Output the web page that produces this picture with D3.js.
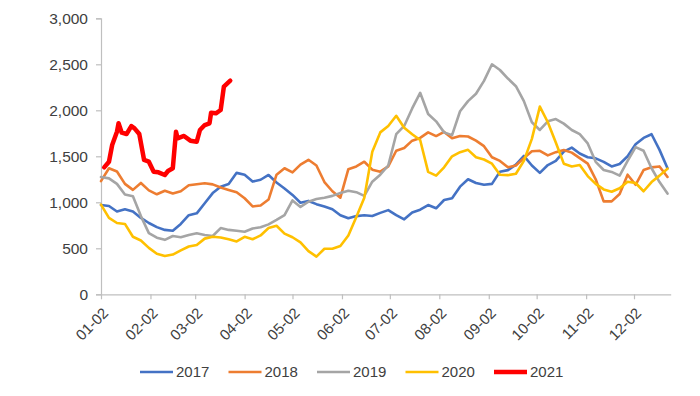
<!DOCTYPE html>
<html><head><meta charset="utf-8">
<script src="https://cdn.jsdelivr.net/npm/d3@7"></script>
<style>body{margin:0;background:#fff}svg{display:block}</style>
</head><body>
<svg id="chart" width="700" height="396"></svg>
<script>
// day offsets from Jan 2 for the 2017-2020 series
const dayOffsets = [0,5,10,15,20,25,30,35,40,45,50,55,60,65,70,75,80,85,90,95,100,105,110,115,120,125,130,135,140,145,150,155,160,165,170,175,180,185,190,195,200,205,210,215,220,225,230,235,240,245,250,255,260,265,270,275,280,285,290,295,300,305,310,315,320,325,330,335,340,345,350,355];
const s2017 = [970,960,900,925,900,830,775,730,700,690,765,860,880,990,1100,1170,1200,1320,1300,1225,1245,1297,1215,1150,1080,995,1015,980,955,925,860,826,850,860,851,885,915,860,815,890,920,970,935,1025,1045,1170,1250,1210,1190,1200,1333,1350,1410,1505,1400,1320,1405,1450,1550,1594,1530,1490,1478,1440,1390,1416,1500,1630,1700,1740,1570,1370];
const s2018 = [1230,1370,1335,1200,1135,1210,1130,1087,1126,1095,1120,1185,1196,1207,1195,1160,1135,1110,1044,955,965,1030,1300,1370,1325,1410,1462,1400,1220,1120,1050,1360,1390,1441,1355,1333,1390,1560,1590,1670,1700,1760,1720,1765,1696,1721,1715,1670,1610,1490,1450,1380,1400,1480,1555,1560,1510,1545,1568,1540,1480,1420,1250,1010,1010,1090,1300,1190,1350,1380,1390,1275];
const s2019 = [1275,1260,1200,1085,1065,850,665,615,592,634,620,645,663,645,634,720,700,691,680,715,728,760,808,860,1020,950,1006,1035,1050,1070,1100,1125,1110,1070,1224,1300,1400,1740,1830,2020,2190,1960,1880,1760,1730,1990,2100,2180,2320,2500,2438,2345,2262,2100,1870,1786,1880,1905,1855,1786,1740,1640,1440,1351,1330,1290,1450,1600,1560,1370,1220,1095];
const s2020 = [975,830,775,765,625,585,505,440,416,432,478,520,536,605,625,618,598,575,625,598,640,720,745,660,620,565,470,410,495,495,525,640,840,1050,1550,1760,1830,1940,1810,1740,1677,1330,1290,1380,1500,1545,1570,1490,1465,1420,1300,1295,1310,1450,1690,2040,1870,1650,1420,1390,1405,1285,1200,1140,1115,1152,1224,1210,1120,1220,1290,1365];
// 2021 has its own day offsets
const dayOffsets2021 = [2,5,7,10,11,13,16,19,21,24,27,30,33,36,40,42,45,47,48,52,56,60,62,65,68,69,72,75,77,81];
const s2021 = [1380,1441,1623,1767,1859,1757,1742,1829,1804,1742,1460,1441,1333,1326,1297,1340,1370,1767,1696,1721,1670,1659,1786,1840,1859,1974,1967,2003,2257,2322];

const seriesNames = ["2017","2018","2019","2020","2021"];
const seriesColors = ["#4472C4","#ED7D31","#A5A5A5","#FFC000","#FF0000"];
const yTicks = [0,500,1000,1500,2000,2500,3000];
const xTickDates = ["01-02","02-02","03-02","04-02","05-02","06-02","07-02","08-02","09-02","10-02","11-02","12-02"];

const base = new Date(2021,0,2);
const toDate = d => d3.timeDay.offset(base, d);
const seriesData = [
  dayOffsets.map((d,i)=>({date:toDate(d), v:s2017[i]})),
  dayOffsets.map((d,i)=>({date:toDate(d), v:s2018[i]})),
  dayOffsets.map((d,i)=>({date:toDate(d), v:s2019[i]})),
  dayOffsets.map((d,i)=>({date:toDate(d), v:s2020[i]})),
  dayOffsets2021.map((d,i)=>({date:toDate(d), v:s2021[i]}))
];

const svg = d3.select("#chart");
const font = "'Liberation Sans', Arial, sans-serif";
const textColor = "#404040";
const axisColor = "#BFBFBF";

const x = d3.scaleTime().domain([base, new Date(2021,11,25)]).range([101, 670.7]);
const y = d3.scaleLinear().domain([0,3000]).range([294.3, 18.3]);

// y axis
const yAxis = d3.axisLeft(y).tickValues(yTicks).tickSize(5).tickPadding(8)
  .tickFormat(d3.format(","));
const gy = svg.append("g").attr("transform","translate(101,0)").call(yAxis);
gy.select(".domain").attr("stroke",axisColor).attr("stroke-width",1.2);
gy.selectAll(".tick line").attr("stroke",axisColor).attr("stroke-width",1.2);
gy.selectAll(".tick text").attr("fill",textColor).style("font-family",font).style("font-size","15.5px");

// x axis
const parseMD = d3.timeParse("%Y-%m-%d");
const xTickVals = xTickDates.map(s => parseMD("2021-"+s));
const xAxis = d3.axisBottom(x).tickValues(xTickVals).tickSize(5).tickSizeOuter(0)
  .tickFormat(d3.timeFormat("%m-%d"));
const gx = svg.append("g").attr("transform","translate(0,294.3)").call(xAxis);
gx.select(".domain").attr("stroke",axisColor).attr("stroke-width",1.2);
gx.selectAll(".tick line").attr("stroke",axisColor).attr("stroke-width",1.2);
gx.selectAll(".tick text").attr("fill",textColor).style("font-family",font).style("font-size","15px")
  .attr("text-anchor","end").attr("dy","0.35em")
  .attr("transform","translate(4,16) rotate(-45)").attr("y",0).attr("x",0);

// lines
const line = d3.line().x(d=>x(d.date)).y(d=>y(d.v)).curve(d3.curveLinear);
seriesData.forEach((data,i)=>{
  svg.append("path").datum(data)
    .attr("fill","none")
    .attr("stroke",seriesColors[i])
    .attr("stroke-width", i===4 ? 4.5 : 2.6)
    .attr("stroke-linejoin","round").attr("stroke-linecap","round")
    .attr("d",line);
});

// legend
const lg = svg.append("g");
seriesNames.forEach((n,i)=>{
  const x0 = 140 + i*88.5;
  lg.append("line").attr("x1",x0).attr("x2",x0+33).attr("y1",372).attr("y2",372)
    .attr("stroke",seriesColors[i]).attr("stroke-width", i===4 ? 4.5 : 2.6);
  lg.append("text").attr("x",x0+36).attr("y",372).attr("dy","0.36em")
    .attr("fill",textColor).style("font-family",font).style("font-size","15px").text(n);
});
</script>
</body></html>
